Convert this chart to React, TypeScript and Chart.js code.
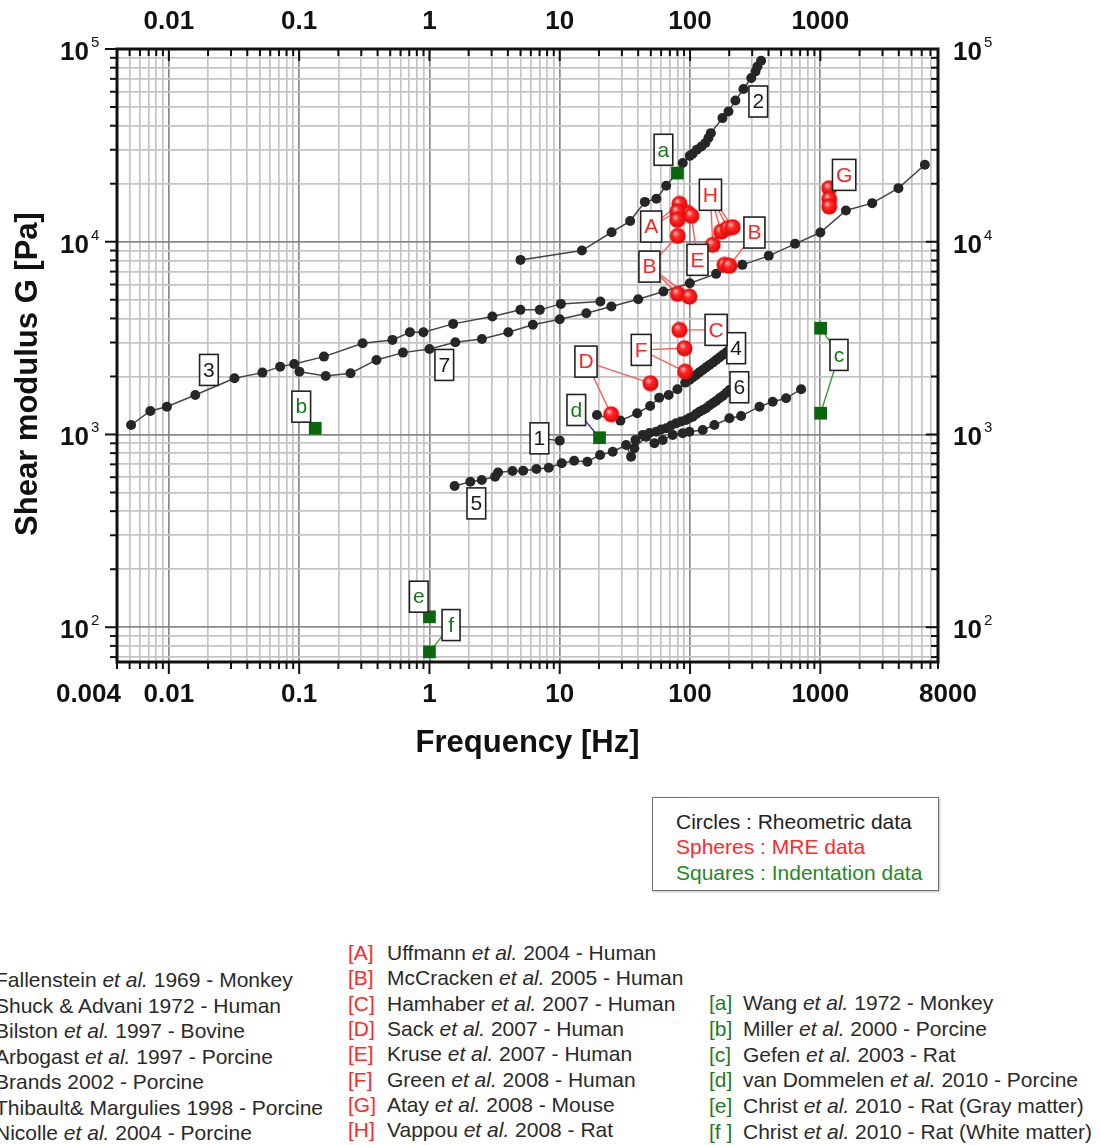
import React, { useEffect, useRef } from "react";
import { Chart, registerables } from "chart.js";

Chart.register(...registerables);

const FONT = '"Liberation Sans", Arimo, Arial, sans-serif';

// ---------------- axes ----------------
const xMin = 0.004;
const xMax = 8000;
const yMin = 66;
const yMax = 100000;
const xBottomTicks = [0.004, 0.01, 0.1, 1, 10, 100, 1000, 8000];
const xBottomLabels = ["0.004", "0.01", "0.1", "1", "10", "100", "1000", "8000"];
const xTopTicks = [0.01, 0.1, 1, 10, 100, 1000];
const xTopLabels = ["0.01", "0.1", "1", "10", "100", "1000"];
const yTicks = [100, 1000, 10000, 100000];
const yExponents = ["2", "3", "4", "5"];
const xTitle = "Frequency [Hz]";
const yTitle = "Shear modulus G [Pa]";

// ---------------- rheometric data (circles) ----------------
const s1Freq = [10.0];
const s1G = [929];

const s2Freq = [5.0, 14.8, 25.0, 34.7, 45.0, 55.2, 65.6, 79.2, 87.9, 99.6, 104.7, 112.7, 122.3, 131.2, 138.4, 144.4, 177.4, 197.3, 223, 257, 295, 318, 329, 351];
const s2G = [8050, 9000, 11200, 12800, 16100, 16700, 19500, 22700, 25600, 27900, 28600, 30000, 31200, 32500, 34500, 36600, 43800, 47400, 54100, 62000, 70700, 76500, 81200, 86900];

const s3Freq = [0.00513, 0.00721, 0.00966, 0.01595, 0.0319, 0.0523, 0.0715, 0.0916, 0.155, 0.307, 0.52, 0.708, 0.898, 1.52, 3.04, 4.99, 7.03, 10.2, 20.5];
const s3G = [1120, 1324, 1394, 1603, 1958, 2094, 2249, 2323, 2535, 2976, 3095, 3393, 3393, 3748, 4090, 4431, 4431, 4760, 4893];

const s4Freq = [19.3, 29.2, 39.3, 49.4, 58.0, 68.6, 80.0, 91.9, 98.9, 105, 111.4, 118, 125.1, 133, 140.9, 150, 158.6, 168, 178.2, 189, 200.6];
const s4G = [1262, 1180, 1289, 1406, 1553, 1603, 1717, 1858, 1918, 1975, 2037, 2100, 2162, 2230, 2295, 2365, 2437, 2510, 2587, 2665, 2747];

const s5Freq = [1.56, 2.06, 2.52, 3.19, 3.36, 4.34, 5.24, 6.62, 8.23, 10.36, 12.9, 16.3, 20.4, 25.5, 32.3, 35.3, 37.4, 46.0, 53.3, 61.7, 73.6, 87.9, 98.9, 125.1, 153.8, 200.6, 246.4, 341, 431, 546, 712];
const s5G = [540, 569, 580, 604, 635, 646, 649, 662, 672, 709, 731, 722, 783, 814, 882, 767, 848, 974, 900, 936, 995, 1014, 1034, 1055, 1120, 1214, 1248, 1394, 1480, 1541, 1717];

const s6Freq = [38.1, 43.4, 48.8, 55.0, 60.0, 65.6, 71.6, 78.2, 85.4, 93.3, 98.9, 104.9, 111.4, 118.1, 125.1, 132.9, 140.9, 149.4, 158.6, 168.2, 178.2, 189.3, 200.6];
const s6G = [936, 995, 1018, 1034, 1062, 1077, 1114, 1143, 1168, 1189, 1218, 1237, 1277, 1313, 1340, 1368, 1415, 1452, 1493, 1541, 1585, 1643, 1702];

const s7Freq = [0.1005, 0.16, 0.248, 0.392, 0.626, 1.0, 1.58, 2.53, 4.03, 6.22, 10.0, 16.0, 24.9, 40.0, 62.5, 99.6, 158.6, 252, 402, 640, 1000, 1571, 2500, 3975, 6340];
const s7G = [2118, 2012, 2078, 2437, 2659, 2779, 3011, 3131, 3393, 3713, 3963, 4259, 4610, 5033, 5513, 6095, 6813, 7586, 8450, 9755, 11160, 14520, 15860, 18970, 25070];

// ---------------- MRE data (spheres) ----------------
const mAFreq = [82.9, 80, 80];
const mAG = [15730, 14350, 12990];
const mBFreq = [80.5, 80.5, 98.9, 183.6, 200.6];
const mBG = [10730, 5364, 5194, 7586, 7496];
const mCFreq = [82.9];
const mCG = [3489];
const mDFreq = [49.7, 24.8];
const mDG = [1845, 1273];
const mEFreq = [95.5, 102.5];
const mEG = [14130, 13630];
const mFFreq = [90.6, 91.7];
const mFG = [2803, 2118];
const mGFreq = [1170, 1170, 1170];
const mGG = [18970, 16640, 15230];
const mHFreq = [149.4, 173.3, 194.7, 212.6];
const mHG = [9640, 11290, 11770, 11900];

// ---------------- indentation data (squares) ----------------
const iaFreq = [80.0];
const iaG = [22710];
const ibFreq = [0.1329];
const ibG = [1077];
const icFreq = [1005, 1005];
const icG = [3559, 1289];
const idFreq = [20.2];
const idG = [962];
const ieFreq = [1.0];
const ieG = [113.2];
const ifFreq = [1.0];
const ifG = [74.5];

// ---------------- legend texts ----------------
const boxLines = ["Circles : Rheometric data", "Spheres : MRE data", "Squares : Indentation data"];
const rheoRefs = [
  "Fallenstein et al. 1969 - Monkey",
  "Shuck & Advani 1972 - Human",
  "Bilston et al. 1997 - Bovine",
  "Arbogast et al. 1997 - Porcine",
  "Brands 2002 - Porcine",
  "Thibault& Margulies 1998 - Porcine",
  "Nicolle et al. 2004 - Porcine",
];
const mreTags = ["[A]", "[B]", "[C]", "[D]", "[E]", "[F]", "[G]", "[H]"];
const mreRefs = [
  "Uffmann et al. 2004 - Human",
  "McCracken et al. 2005 - Human",
  "Hamhaber et al. 2007 - Human",
  "Sack et al. 2007 - Human",
  "Kruse et al. 2007 - Human",
  "Green et al. 2008 - Human",
  "Atay et al. 2008 - Mouse",
  "Vappou et al. 2008 - Rat",
];
const indTags = ["[a]", "[b]", "[c]", "[d]", "[e]", "[f ]"];
const indRefs = [
  "Wang et al. 1972 - Monkey",
  "Miller et al. 2000 - Porcine",
  "Gefen et al. 2003 - Rat",
  "van Dommelen et al. 2010 - Porcine",
  "Christ et al. 2010 - Rat (Gray matter)",
  "Christ et al. 2010 - Rat (White matter)",
];

const BLACK = "#1a1a1a";
const RED = "#ff2424";
const GREEN = "#15791a";

// annotation labels: anchor in data space, leader lines to dataset points
type Ann = { text: string; color: string; x: number; y: number; line?: string; targets?: [string, number][] };
const annotations: Ann[] = [
  { text: "2", color: BLACK, x: 334, y: 53400 },
  { text: "3", color: BLACK, x: 0.0203, y: 2162 },
  { text: "7", color: BLACK, x: 1.3, y: 2295 },
  { text: "1", color: BLACK, x: 6.98, y: 955, line: "#333", targets: [["1", 0]] },
  { text: "4", color: BLACK, x: 226, y: 2803 },
  { text: "5", color: BLACK, x: 2.29, y: 439 },
  { text: "6", color: BLACK, x: 239, y: 1758 },
  { text: "a", color: GREEN, x: 62.5, y: 30000 },
  { text: "b", color: GREEN, x: 0.1038, y: 1394 },
  { text: "c", color: GREEN, x: 1390, y: 2587, line: "#3a9a3a", targets: [["c", 0], ["c", 1]] },
  { text: "d", color: GREEN, x: 13.4, y: 1340, line: "#3344aa", targets: [["d", 0]] },
  { text: "e", color: GREEN, x: 0.828, y: 144 },
  { text: "f", color: GREEN, x: 1.465, y: 102.6, line: "#3a9a3a", targets: [["f", 0]] },
  { text: "A", color: RED, x: 50.3, y: 11990, line: "#ff5a5a", targets: [["A", 0], ["A", 1]] },
  { text: "B", color: RED, x: 48.8, y: 7430, line: "#ff5a5a", targets: [["B", 0], ["B", 1], ["B", 2]] },
  { text: "B", color: RED, x: 312, y: 11160, line: "#ff5a5a", targets: [["B", 4]] },
  { text: "E", color: RED, x: 114, y: 8054, line: "#ff5a5a", targets: [["E", 1]] },
  { text: "H", color: RED, x: 143.4, y: 17520, line: "#ff5a5a", targets: [["H", 0], ["H", 1], ["H", 2], ["H", 3]] },
  { text: "G", color: RED, x: 1523, y: 22230 },
  { text: "C", color: RED, x: 158.6, y: 3489, line: "#ff5a5a", targets: [["C", 0]] },
  { text: "F", color: RED, x: 42.2, y: 2747, line: "#ff5a5a", targets: [["F", 0], ["F", 1]] },
  { text: "D", color: RED, x: 15.9, y: 2389, line: "#ff5a5a", targets: [["D", 0], ["D", 1]] },
];

function toPts(fx: number[], gy: number[]) {
  return fx.map((f, i) => ({ x: f, y: gy[i] }));
}

function logGrid(min: number, max: number) {
  const out: number[] = [];
  for (let e = Math.floor(Math.log10(min)); e <= Math.ceil(Math.log10(max)); e++) {
    for (let m = 1; m <= 9; m++) {
      const v = parseFloat((m * Math.pow(10, e)).toPrecision(6));
      if (v >= min * 0.9999 && v <= max * 1.0001) out.push(v);
    }
  }
  return out;
}
const isMajor = (v: number) => Math.abs(Math.log10(v) - Math.round(Math.log10(v))) < 1e-6;

function makeSphere() {
  const c = document.createElement("canvas");
  c.width = 17;
  c.height = 17;
  const g = c.getContext("2d")!;
  const grad = g.createRadialGradient(6, 5.5, 0.5, 8.5, 8.5, 8.5);
  grad.addColorStop(0, "#ffb8b8");
  grad.addColorStop(0.35, "#ff2a2a");
  grad.addColorStop(1, "#e20000");
  g.fillStyle = grad;
  g.beginPath();
  g.arc(8.5, 8.5, 8, 0, Math.PI * 2);
  g.fill();
  return c;
}

function RefText({ text }: { text: string }) {
  const parts = text.split("et al.");
  return (
    <>
      {parts.map((p, i) => (
        <React.Fragment key={i}>
          {p}
          {i < parts.length - 1 && <i>et al.</i>}
        </React.Fragment>
      ))}
    </>
  );
}

export default function App() {
  const ref = useRef<HTMLCanvasElement>(null);

  useEffect(() => {
    const canvas = ref.current!;
    const sphere = makeSphere();
    const xGrid = logGrid(xMin, xMax);
    const yGrid = logGrid(yMin, yMax);

    const rheo = (id: string, f: number[], g: number[], line = true) => ({
      label: id,
      data: toPts(f, g),
      showLine: line,
      borderColor: "#444",
      borderWidth: 1.5,
      pointRadius: 5,
      pointBackgroundColor: "#262626",
      pointBorderColor: "#262626",
      pointBorderWidth: 0,
    });
    const mre = (id: string, f: number[], g: number[]) => ({
      label: id,
      data: toPts(f, g),
      showLine: false,
      pointStyle: sphere,
      pointRadius: 8,
      backgroundColor: RED,
      borderColor: RED,
    });
    const ind = (id: string, f: number[], g: number[]) => ({
      label: id,
      data: toPts(f, g),
      showLine: false,
      pointStyle: "rect",
      pointRadius: 9,
      pointBackgroundColor: "#0b670b",
      pointBorderColor: "#0b670b",
      pointBorderWidth: 0,
    });

    const datasets: any[] = [
      ind("a", iaFreq, iaG),
      ind("b", ibFreq, ibG),
      ind("c", icFreq, icG),
      ind("d", idFreq, idG),
      ind("e", ieFreq, ieG),
      ind("f", ifFreq, ifG),
      mre("A", mAFreq, mAG),
      mre("B", mBFreq, mBG),
      mre("C", mCFreq, mCG),
      mre("D", mDFreq, mDG),
      mre("E", mEFreq, mEG),
      mre("F", mFFreq, mFG),
      mre("G", mGFreq, mGG),
      mre("H", mHFreq, mHG),
      rheo("1", s1Freq, s1G, false),
      rheo("2", s2Freq, s2G),
      rheo("3", s3Freq, s3G),
      rheo("4", s4Freq, s4G),
      rheo("5", s5Freq, s5G),
      rheo("6", s6Freq, s6G),
      rheo("7", s7Freq, s7G),
    ];

    const findPt = (id: string, idx: number) => {
      const ds = datasets.find((d) => d.label === id);
      return ds ? ds.data[idx] : null;
    };

    const line = (ctx: CanvasRenderingContext2D, x1: number, y1: number, x2: number, y2: number) => {
      ctx.beginPath();
      ctx.moveTo(x1, y1);
      ctx.lineTo(x2, y2);
      ctx.stroke();
    };

    const framePlugin = {
      id: "frame",
      beforeDatasetsDraw(chart: any) {
        const ctx = chart.ctx;
        const xs = chart.scales.x;
        const ys = chart.scales.y;
        ctx.save();
        ctx.lineWidth = 1.4;
        for (const a of annotations) {
          if (!a.targets) continue;
          const cx = xs.getPixelForValue(a.x);
          const cy = ys.getPixelForValue(a.y);
          ctx.strokeStyle = a.line || "#333";
          for (const [id, idx] of a.targets) {
            const p = findPt(id, idx);
            if (!p) continue;
            line(ctx, cx, cy, xs.getPixelForValue(p.x), ys.getPixelForValue(p.y));
          }
        }
        ctx.restore();
      },
      afterDatasetsDraw(chart: any) {
        const ctx = chart.ctx;
        const xs = chart.scales.x;
        const ys = chart.scales.y;
        ctx.save();
        ctx.font = `21px ${FONT}`;
        ctx.textAlign = "center";
        ctx.textBaseline = "middle";
        for (const a of annotations) {
          const cx = xs.getPixelForValue(a.x);
          const cy = ys.getPixelForValue(a.y);
          const tw = ctx.measureText(a.text).width;
          const w = Math.max(tw + 7, 18);
          const h = 31;
          ctx.fillStyle = "#fff";
          ctx.fillRect(cx - w / 2, cy - h / 2, w, h);
          ctx.strokeStyle = "#222";
          ctx.lineWidth = 1.6;
          ctx.strokeRect(cx - w / 2, cy - h / 2, w, h);
          ctx.fillStyle = a.color;
          ctx.fillText(a.text, cx, cy + 1);
        }
        ctx.restore();
      },
      afterDraw(chart: any) {
        const ctx = chart.ctx;
        const xs = chart.scales.x;
        const ys = chart.scales.y;
        const { left, right, top, bottom } = chart.chartArea;
        ctx.save();
        // frame
        ctx.strokeStyle = "#111";
        ctx.lineWidth = 3;
        ctx.strokeRect(left, top, right - left, bottom - top);
        // tick marks: bottom/left outward, top/right inward
        ctx.lineWidth = 2;
        for (const v of xGrid) {
          const px = xs.getPixelForValue(v);
          const len = isMajor(v) ? 12 : 7;
          line(ctx, px, bottom, px, bottom + len);
          line(ctx, px, top, px, top + len);
        }
        for (const v of yGrid) {
          const py = ys.getPixelForValue(v);
          const len = isMajor(v) ? 12 : 7;
          line(ctx, left, py, left - len, py);
          line(ctx, right, py, right - len, py);
        }
        // x tick labels
        ctx.fillStyle = "#111";
        ctx.font = `bold 26px ${FONT}`;
        ctx.textBaseline = "alphabetic";
        xTopTicks.forEach((v, i) => {
          ctx.textAlign = "center";
          ctx.fillText(xTopLabels[i], xs.getPixelForValue(v), top - 20);
        });
        xBottomTicks.forEach((v, i) => {
          const px = xs.getPixelForValue(v);
          if (i === 0) {
            ctx.textAlign = "right";
            ctx.fillText(xBottomLabels[i], px + 4, 702);
          } else if (i === xBottomTicks.length - 1) {
            ctx.textAlign = "center";
            ctx.fillText(xBottomLabels[i], px + 10, 702);
          } else {
            ctx.textAlign = "center";
            ctx.fillText(xBottomLabels[i], px, 702);
          }
        });
        // y tick labels 10^n on both sides
        yTicks.forEach((v, i) => {
          const py = ys.getPixelForValue(v);
          ctx.font = `bold 26px ${FONT}`;
          ctx.textAlign = "right";
          ctx.fillText("10", left - 28, py + 11);
          ctx.textAlign = "left";
          ctx.fillText("10", right + 15, py + 11);
          ctx.font = `15px ${FONT}`;
          ctx.textAlign = "left";
          ctx.fillText(yExponents[i], left - 26, py - 2);
          ctx.fillText(yExponents[i], right + 46, py - 2);
        });
        // titles
        ctx.font = `bold 31px ${FONT}`;
        ctx.textAlign = "center";
        ctx.textBaseline = "middle";
        ctx.fillText(xTitle, (left + right) / 2, 743);
        ctx.save();
        ctx.translate(37, 374);
        ctx.rotate(-Math.PI / 2);
        ctx.textBaseline = "alphabetic";
        ctx.fillText(yTitle, 0, 0);
        ctx.restore();
        ctx.restore();
      },
    };

    const gridColor = (c: any) => (c.tick && isMajor(c.tick.value) ? "#888" : "#c4c4c4");

    const chart = new Chart(canvas, {
      type: "scatter",
      data: { datasets },
      options: {
        animation: false,
        responsive: false,
        devicePixelRatio: 1,
        events: [],
        layout: { padding: { left: 117, top: 49, right: 162, bottom: 118 } },
        plugins: { legend: { display: false }, tooltip: { enabled: false } },
        scales: {
          x: {
            type: "logarithmic",
            position: "bottom",
            min: xMin,
            max: xMax,
            ticks: { display: false },
            grid: { color: gridColor, lineWidth: 1.7, drawTicks: false },
            border: { display: false },
            afterBuildTicks: (s: any) => {
              s.ticks = xGrid.map((v) => ({ value: v }));
            },
            afterFit: (s: any) => {
              s.height = 0;
            },
          },
          y: {
            type: "logarithmic",
            position: "left",
            min: yMin,
            max: yMax,
            ticks: { display: false },
            grid: { color: gridColor, lineWidth: 1.7, drawTicks: false },
            border: { display: false },
            afterBuildTicks: (s: any) => {
              s.ticks = yGrid.map((v) => ({ value: v }));
            },
            afterFit: (s: any) => {
              s.width = 0;
            },
          },
        },
      } as any,
      plugins: [framePlugin as any],
    });
    return () => chart.destroy();
  }, []);

  const txt: React.CSSProperties = {
    position: "absolute",
    fontFamily: FONT,
    fontSize: 21,
    lineHeight: "26px",
    whiteSpace: "nowrap",
    color: "#2a2a2a",
  };

  return (
    <div style={{ position: "absolute", left: 0, top: 0, width: 1100, height: 1145, overflow: "hidden", background: "#fff" }}>
      <canvas ref={ref} width={1100} height={780} style={{ position: "absolute", left: 0, top: 0, width: 1100, height: 780 }} />
      <div
        style={{
          position: "absolute",
          left: 652,
          top: 797,
          width: 287,
          height: 94,
          border: "1.5px solid #6f6f6f",
          boxSizing: "border-box",
          boxShadow: "1px 1px 2px rgba(0,0,0,0.25)",
        }}
      />
      <div style={{ ...txt, left: 676, top: 822 - 13, color: "#222" }}>{boxLines[0]}</div>
      <div style={{ ...txt, left: 676, top: 847 - 13, color: "#ff2a2a" }}>{boxLines[1]}</div>
      <div style={{ ...txt, left: 676, top: 873 - 13, color: "#1f8a1f" }}>{boxLines[2]}</div>

      {rheoRefs.map((r, i) => (
        <div key={"r" + i} style={{ ...txt, left: -5, top: 980 + i * 25.5 - 13 }}>
          <RefText text={r} />
        </div>
      ))}
      {mreRefs.map((r, i) => (
        <React.Fragment key={"m" + i}>
          <div style={{ ...txt, left: 348, top: 953 + i * 25.3 - 13, color: "#ff2a2a" }}>{mreTags[i]}</div>
          <div style={{ ...txt, left: 387, top: 953 + i * 25.3 - 13 }}>
            <RefText text={r} />
          </div>
        </React.Fragment>
      ))}
      {indRefs.map((r, i) => (
        <React.Fragment key={"i" + i}>
          <div style={{ ...txt, left: 709, top: 1003 + i * 25.8 - 13, color: "#1f7a1f" }}>{indTags[i]}</div>
          <div style={{ ...txt, left: 743, top: 1003 + i * 25.8 - 13 }}>
            <RefText text={r} />
          </div>
        </React.Fragment>
      ))}
    </div>
  );
}
